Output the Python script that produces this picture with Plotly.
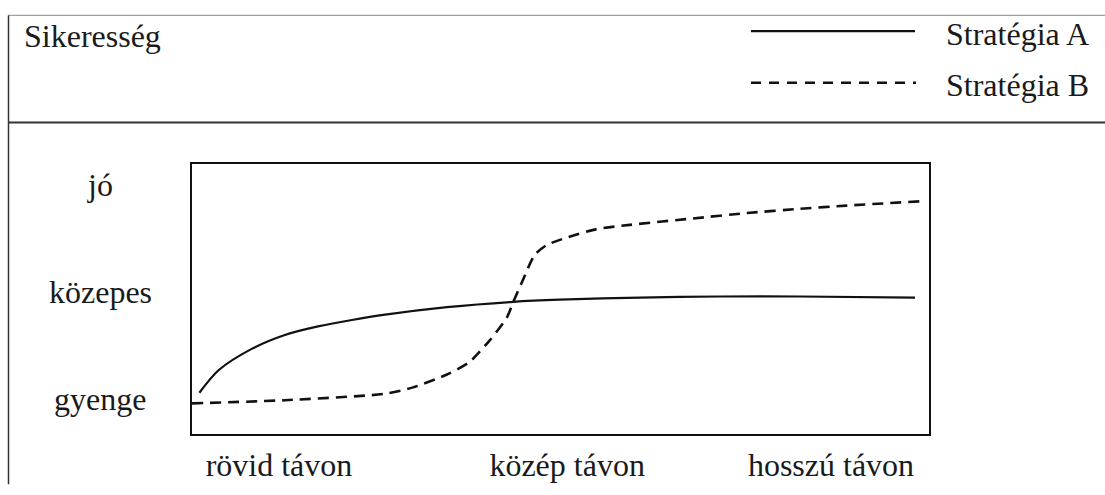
import plotly.graph_objects as go

# ---- data ----
x_labels = ["rövid távon", "közép távon", "hosszú távon"]
x_label_pos = [11.8, 50.9, 86.7]
y_labels = ["gyenge", "közepes", "jó"]
y_label_pos = [1, 2, 3]

a_x = [1.0, 3.6, 8.1, 12.6, 17.1, 21.7, 26.2, 34.6, 43.6, 49.9, 60.8, 71.6, 82.5, 98.1]
a_y = [1.06, 1.27, 1.47, 1.60, 1.68, 1.74, 1.79, 1.86, 1.91, 1.93, 1.95, 1.96, 1.96, 1.95]

b_x = [0.0, 12.6, 26.2, 30.0, 34.6, 37.7, 40.4, 42.7, 43.6, 45.0, 46.5, 48.1, 50.8, 54.9,
       59.4, 68.0, 75.3, 82.5, 88.8, 98.8]
b_y = [0.96, 0.99, 1.05, 1.11, 1.23, 1.35, 1.55, 1.76, 1.91, 2.13, 2.35, 2.44, 2.51, 2.59,
       2.63, 2.69, 2.74, 2.78, 2.81, 2.85]

series_names = ["Stratégia A", "Stratégia B"]
y_title = "Sikeresség"

FONT = "Liberation Serif"
FS = 32
TXT = "#1a1a1a"

fig = go.Figure()
fig.add_trace(go.Scatter(x=a_x, y=a_y, mode="lines", name=series_names[0],
                         line=dict(color="#111111", width=2.2, shape="spline", smoothing=0.8)))
fig.add_trace(go.Scatter(x=b_x, y=b_y, mode="lines", name=series_names[1],
                         line=dict(color="#111111", width=2.6, dash="11px,7px",
                                   shape="spline", smoothing=0.6)))

W, H = 1105, 495
L, R, T, B = 192, 176, 164, 52
pw, ph = W - L - R, H - T - B


def px(x):
    return (x - L) / pw


def py(y):
    return (H - B - y) / ph


shapes = [
    # outer frame
    dict(type="line", xref="paper", yref="paper", x0=px(8), x1=px(W), y0=py(10.5), y1=py(10.5),
         line=dict(color="#a0a0a0", width=1.2)),
    dict(type="line", xref="paper", yref="paper", x0=px(8.5), x1=px(8.5), y0=py(10.5), y1=py(H),
         line=dict(color="#333333", width=1.5)),
    dict(type="line", xref="paper", yref="paper", x0=px(8), x1=px(W), y0=py(121), y1=py(121),
         line=dict(color="#333333", width=2)),
    # legend samples
    dict(type="line", xref="paper", yref="paper", x0=px(751), x1=px(915), y0=py(26.7), y1=py(26.7),
         line=dict(color="#111111", width=2.2)),
    dict(type="line", xref="paper", yref="paper", x0=px(751), x1=px(916), y0=py(80), y1=py(80),
         line=dict(color="#111111", width=2.6, dash="10px,8px")),
]

annotations = [
    dict(text=y_title, xref="paper", yref="paper", x=px(22), y=py(32), xanchor="left",
         yanchor="middle", showarrow=False, font=dict(family=FONT, size=FS, color=TXT)),
    dict(text=series_names[0], xref="paper", yref="paper", x=px(944), y=py(30), xanchor="left",
         yanchor="middle", showarrow=False, font=dict(family=FONT, size=FS, color=TXT)),
    dict(text=series_names[1], xref="paper", yref="paper", x=px(944), y=py(82), xanchor="left",
         yanchor="middle", showarrow=False, font=dict(family=FONT, size=FS, color=TXT)),
]
for lab, v in zip(y_labels, y_label_pos):
    annotations.append(dict(text=lab, xref="paper", yref="y", x=px(100), y=v, xanchor="center",
                            yanchor="middle", showarrow=False,
                            font=dict(family=FONT, size=FS, color=TXT)))

fig.update_layout(
    width=W, height=H,
    margin=dict(l=L, r=R, t=T, b=B, pad=0),
    paper_bgcolor="white", plot_bgcolor="white",
    showlegend=False,
    shapes=shapes, annotations=annotations,
    xaxis=dict(range=[0, 100], tickvals=x_label_pos, ticktext=x_labels, ticks="",
               showgrid=False, zeroline=False, showline=True, mirror=True,
               linecolor="#111111", linewidth=2, ticklabelstandoff=2,
               tickfont=dict(family=FONT, size=FS, color=TXT), fixedrange=True),
    yaxis=dict(range=[0.674, 3.199], showticklabels=False, ticks="",
               showgrid=False, zeroline=False, showline=True, mirror=True,
               linecolor="#111111", linewidth=2, fixedrange=True),
)

fig.write_html("out.html", config={"displayModeBar": False},
               post_script="document.body.style.margin='0';document.body.style.overflow='hidden';")
